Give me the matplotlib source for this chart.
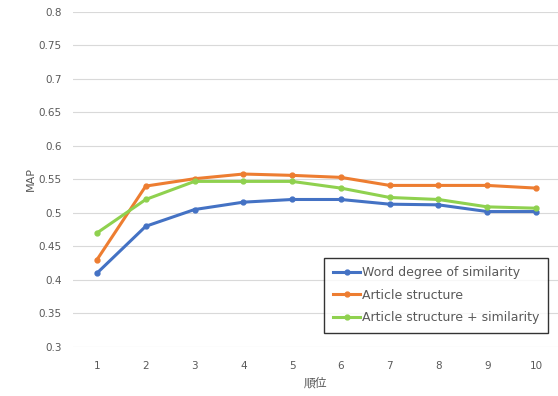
import matplotlib
matplotlib.use('Agg')
import matplotlib.pyplot as plt

plt.rcParams['font.family'] = ['DejaVu Sans', 'Noto Sans CJK JP']

# Datos
ranks = [1, 2, 3, 4, 5, 6, 7, 8, 9, 10]
word_sim = [0.41, 0.48, 0.505, 0.516, 0.52, 0.52, 0.513, 0.512, 0.502, 0.502]
article = [0.43, 0.54, 0.551, 0.558, 0.556, 0.553, 0.541, 0.541, 0.541, 0.537]
article_sim = [0.47, 0.52, 0.547, 0.547, 0.547, 0.537, 0.523, 0.520, 0.509, 0.507]
yticks = [0.3, 0.35, 0.4, 0.45, 0.5, 0.55, 0.6, 0.65, 0.7, 0.75, 0.8]

fig = plt.figure(figsize=(5.58, 3.96), dpi=100)
ax = fig.add_axes([0.13, 0.124, 0.87, 0.846])

ax.plot(ranks, word_sim, color='#4472C4', lw=2.2, marker='o', ms=3.5, label='Word degree of similarity')
ax.plot(ranks, article, color='#ED7D31', lw=2.2, marker='o', ms=3.5, label='Article structure')
ax.plot(ranks, article_sim, color='#8FD14F', lw=2.2, marker='o', ms=3.5, label='Article structure + similarity')

ax.set_xlim(0.5, 10.45)
ax.set_ylim(0.3, 0.8)
ax.set_yticks(yticks)
ax.set_yticklabels([('%g' % v) for v in yticks])
ax.set_xticks(ranks)
ax.grid(axis='y', color='#D9D9D9', lw=0.8)
ax.set_axisbelow(True)
for s in ax.spines.values():
    s.set_visible(False)
ax.tick_params(length=0, colors='#595959', labelsize=7.5, pad=8)
ax.tick_params(axis='x', pad=10)
ax.set_ylabel('MAP', color='#595959', fontsize=8, labelpad=2)
ax.set_xlabel('順位', color='#595959', fontsize=8.5, labelpad=4)

leg = ax.legend(loc='lower right', bbox_to_anchor=(0.979, 0.042), fontsize=9, frameon=True,
                fancybox=False, edgecolor='black', handlelength=2.2, handletextpad=0.1,
                labelspacing=0.75, borderpad=0.7, borderaxespad=0, labelcolor='#595959')
leg.get_frame().set_linewidth(1.0)

fig.savefig('out.png', dpi=100)
